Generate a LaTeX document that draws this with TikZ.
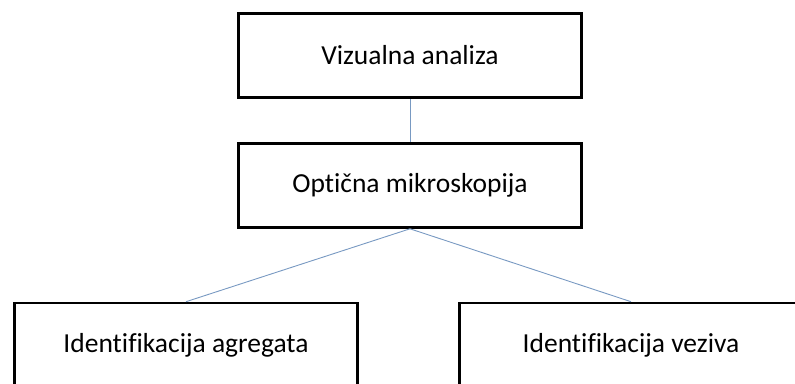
\documentclass[tikz,border=0pt]{standalone}
\usepackage{fontspec}
\setmainfont{Carlito}[Ligatures=NoCommon]
\usepackage{tikz}
\usetikzlibrary{positioning}

\definecolor{linkblue}{rgb}{0.47,0.60,0.76}

\tikzset{
  stage/.style={draw=black, line width=2.6pt, fill=white,
    minimum width=343pt, minimum height=84pt, inner sep=0pt,
    font=\fontsize{27.5}{32}\selectfont},
  link/.style={draw=linkblue, line width=0.9pt}
}

\begin{document}
\begin{tikzpicture}[x=1pt,y=-1pt]
            \useasboundingbox (0,0) rectangle (795,383);
            \clip (0,0) rectangle (795,383);
            \node[stage] (vis) at (410,55.5) {Vizualna analiza};
            \node[stage] (opt) at (410,185.5) {Optična mikroskopija};
            \node[stage] (agg) at (186,345) {Identifikacija agregata};
            \node[stage] (vez) at (631,345) {Identifikacija veziva};
            \draw[link] (vis.south) -- (opt.north);
            \draw[link] (opt.south) -- (agg.north);
            \draw[link] (opt.south) -- (vez.north);
        \end{tikzpicture}
\end{document}
